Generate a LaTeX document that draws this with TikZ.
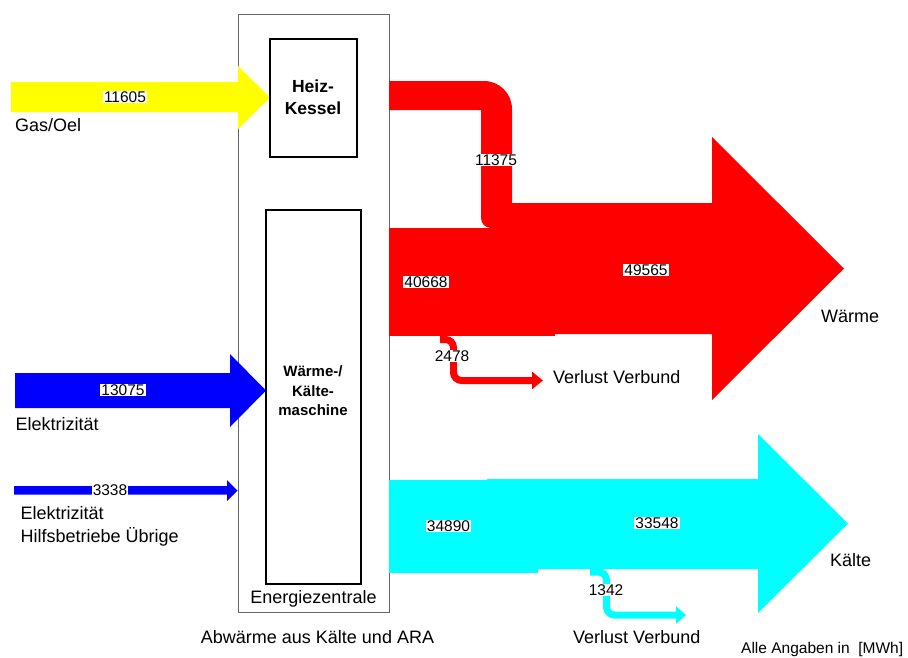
\documentclass[tikz,border=0pt]{standalone}
\usepackage{fontspec}
\setmainfont{Liberation Sans}
\usetikzlibrary{arrows.meta}
\definecolor{cyanA}{RGB}{0,255,255}
\definecolor{redA}{RGB}{255,0,0}
\definecolor{blueA}{RGB}{0,0,255}
\definecolor{yellowA}{RGB}{255,255,0}
\begin{document}
\begin{tikzpicture}[x=1pt,y=-1pt,
  lbl/.style={font=\fontsize{18}{21}\selectfont, inner sep=0pt},
  small/.style={font=\fontsize{15.5}{18}\selectfont, inner sep=0pt},
  num/.style={font=\fontsize{15.5}{18}\selectfont, fill=white, inner sep=1pt},
  boldA/.style={font=\bfseries\fontsize{17.5}{21}\selectfont, inner sep=0pt},
  boldB/.style={font=\bfseries\fontsize{15}{18}\selectfont, inner sep=0pt},
  innerbox/.style={draw=black, line width=2pt},
  outerbox/.style={draw=black!60, line width=1pt},
  losspipe/.style={line width=7pt, rounded corners=8pt},
]
\useasboundingbox (0,0) rectangle (908,657);

% Energiezentrale outer box
\draw[outerbox] (238.5,14) rectangle (389,612);

% Input arrows
\fill[yellowA] (11,82) -- (238,82) -- (238,66) -- (270,97.5) -- (238,129) -- (238,112) -- (11,112) -- cycle;
\fill[blueA] (15,373) -- (230,373) -- (230,354) -- (266,390.5) -- (230,427) -- (230,408) -- (15,408) -- cycle;
\fill[blueA] (14,486) -- (227,486) -- (227,480) -- (237.5,490.5) -- (227,501) -- (227,494.5) -- (14,494.5) -- cycle;

% Heat: pipe from boiler
\fill[redA] (389,81) -- (484,81) .. controls (499.5,81) and (512,93.5) .. (512,109)
  -- (512,228) -- (491,228) .. controls (485.5,228) and (481,223.5) .. (481,218)
  -- (481,110) -- (389,110) -- cycle;
% Heat block and big arrow
\fill[redA] (389,228) rectangle (555,336);
\fill[redA] (500,203) -- (712,203) -- (712,137) -- (844,268.5) -- (712,400) -- (712,334) -- (500,334) -- cycle;
% Heat loss
\draw[redA, losspipe, -{Triangle[length=11pt,width=17pt]}] (440,339.5) -- (453.5,339.5) -- (453.5,380.5) -- (543,380.5);

% Cold block and big arrow
\fill[cyanA] (389,480) rectangle (538,573);
\fill[cyanA] (487,479) -- (758,479) -- (758,434) -- (848,523.5) -- (758,613) -- (758,569) -- (487,569) -- cycle;
% Cold loss
\draw[cyanA, losspipe, -{Triangle[length=10pt,width=17pt]}] (590,572) -- (606.5,572) -- (606.5,615) -- (686,615);

% Inner boxes
\draw[innerbox] (270,38.5) rectangle (357,157);
\draw[innerbox] (265.5,210) rectangle (361,584);

% Box texts
\node[boldA, anchor=base] (hk1) at (313,92) {Heiz-};
\node[boldA, anchor=base] (hk2) at (313,114) {Kessel};
\node[boldB, anchor=base] (wk1) at (313,376.5) {Wärme-/};
\node[boldB, anchor=base] (wk2) at (313,396) {Kälte-};
\node[boldB, anchor=base] (wk3) at (313,415.5) {maschine};
\node[lbl, anchor=base] (ez) at (313.5,603.5) {Energiezentrale};

% Numbers
\node[num] (n1) at (125,97) {11605};
\node[num] (n2) at (123,390) {13075};
\node[num] (n3) at (110,490) {3338};
\node[num] (n4) at (496,160) {11375};
\node[num] (n5) at (426,282) {40668};
\node[num] (n6) at (646,270) {49565};
\node[num] (n7) at (452,356) {2478};
\node[num] (n8) at (448.5,526) {34890};
\node[num] (n9) at (657,523) {33548};
\node[num] (n10) at (606,590) {1342};

% Labels
\node[lbl, anchor=base west] (gas) at (15,131) {Gas/Oel};
\node[lbl, anchor=base west] (el1) at (15.5,430) {Elektrizität};
\node[lbl, anchor=base west] (el2) at (20.5,519) {Elektrizität};
\node[lbl, anchor=base west] (el3) at (20.5,542) {Hilfsbetriebe Übrige};
\node[lbl, anchor=base west] (vv1) at (553,383) {Verlust Verbund};
\node[lbl, anchor=base west] (vv2) at (573,643) {Verlust Verbund};
\node[lbl, anchor=base west] (wae) at (821,322) {Wärme};
\node[lbl, anchor=base west] (kae) at (830,566) {Kälte};
\node[lbl, anchor=base] (abw) at (317.5,643) {Abwärme aus Kälte und ARA};
\node[small, anchor=base west] (alle) at (741,653) {Alle Angaben in \ [MWh]};
\end{tikzpicture}
\end{document}
